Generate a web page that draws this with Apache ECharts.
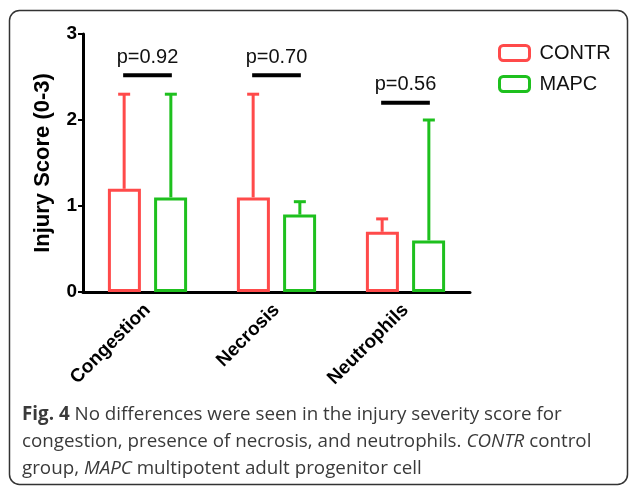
<!DOCTYPE html>
<html>
<head>
<meta charset="utf-8">
<script src="https://cdn.jsdelivr.net/npm/echarts@6/dist/echarts.min.js"></script>
<style>
html,body{margin:0;padding:0;background:#fff;}
#chart{width:630px;height:487px;}
</style>
</head>
<body>
<div id="chart"></div>
<script>
const categories = ['Congestion', 'Necrosis', 'Neutrophils'];
const contrMean = [1.2, 1.1, 0.7];
const contrUpper = [2.3, 2.3, 0.85];
const mapcMean = [1.1, 0.9, 0.6];
const mapcUpper = [2.3, 1.05, 2.0];
const pLabels = ['p=0.92', 'p=0.70', 'p=0.56'];
const pLevels = [2.52, 2.52, 2.2];
const seriesNames = ['CONTR', 'MAPC'];
const captionLines = [
  '{b|Fig. 4} No differences were seen in the injury severity score for',
  'congestion, presence of necrosis, and neutrophils. {i|CONTR} control',
  'group, {i|MAPC} multipotent adult progenitor cell'
];

const RED = '#ff4a4a';
const GREEN = '#1ec01e';
const OFF = 0.181;
const CAP_FS = 18.8;

function errData(mean, upper) {
  return categories.map((c, i) => [i, mean[i], upper[i]]);
}
function errRender(sign, color) {
  return function (params, api) {
    const i = api.value(0);
    const bw = api.size([1, 0])[0];
    const base = api.coord([i, api.value(1)]);
    const top = api.coord([i, api.value(2)]);
    const x = base[0] + sign * bw * OFF;
    const cap = 6;
    return {
      type: 'group',
      children: [
        { type: 'line', shape: { x1: x, y1: base[1], x2: x, y2: top[1] }, style: { stroke: color, lineWidth: 3 } },
        { type: 'line', shape: { x1: x - cap, y1: top[1], x2: x + cap, y2: top[1] }, style: { stroke: color, lineWidth: 3 } }
      ]
    };
  };
}

const chart = echarts.init(document.getElementById('chart'), null, { renderer: 'canvas' });
const option = {
  backgroundColor: '#fff',
  animation: false,
  grid: { left: 83, right: 160, top: 34, bottom: 195, containLabel: false },
  legend: {
    data: seriesNames,
    left: 493, top: 38, orient: 'vertical',
    itemWidth: 30, itemHeight: 15, itemGap: 11,
    icon: 'roundRect',
    itemStyle: { color: '#fff', borderWidth: 3 },
    textStyle: { fontFamily: 'Liberation Sans', fontSize: 20, color: '#111', padding: [0, 0, 0, 5] }
  },
  xAxis: {
    type: 'category',
    data: categories,
    axisLine: { lineStyle: { color: '#000', width: 3 } },
    axisTick: { alignWithLabel: true, length: 6, lineStyle: { color: '#000', width: 3 } },
    axisLabel: { rotate: 45, margin: 15, fontFamily: 'Liberation Sans', fontWeight: 'bold', fontSize: 19, color: '#000' },
    splitLine: { show: false }
  },
  yAxis: {
    type: 'value', min: 0, max: 3, interval: 1,
    name: 'Injury Score (0-3)', nameLocation: 'middle', nameGap: 29,
    nameTextStyle: { fontFamily: 'Liberation Sans', fontWeight: 'bold', fontSize: 22, color: '#000' },
    axisLine: { show: true, lineStyle: { color: '#000', width: 3 } },
    axisTick: { show: true, length: 5, lineStyle: { color: '#000', width: 2 } },
    axisLabel: { margin: 6, fontFamily: 'Liberation Sans', fontWeight: 'bold', fontSize: 19, color: '#000' },
    splitLine: { show: false }
  },
  series: [
    {
      name: 'CONTR', type: 'bar', data: contrMean, barWidth: 33, barGap: '40%',
      itemStyle: { color: '#fff', borderColor: RED, borderWidth: 3 }
    },
    {
      name: 'MAPC', type: 'bar', data: mapcMean, barWidth: 33, barGap: '40%',
      itemStyle: { color: '#fff', borderColor: GREEN, borderWidth: 3 }
    },
    {
      type: 'custom', name: 'CONTR err', data: errData(contrMean, contrUpper),
      encode: { x: 0, y: [1, 2] }, renderItem: errRender(-1, RED), z: 1
    },
    {
      type: 'custom', name: 'MAPC err', data: errData(mapcMean, mapcUpper),
      encode: { x: 0, y: [1, 2] }, renderItem: errRender(1, GREEN), z: 1
    },
    {
      type: 'custom', name: 'p', data: categories.map((c, i) => [i, pLevels[i]]),
      encode: { x: 0, y: 1 },
      renderItem: function (params, api) {
        const i = api.value(0);
        const bw = api.size([1, 0])[0];
        const p = api.coord([i, api.value(1)]);
        const half = bw * OFF + 1;
        return {
          type: 'group',
          children: [
            { type: 'line', shape: { x1: p[0] - half, y1: p[1], x2: p[0] + half, y2: p[1] }, style: { stroke: '#000', lineWidth: 4 } },
            { type: 'text', style: { text: pLabels[params.dataIndex], x: p[0], y: p[1] - 18, align: 'center', verticalAlign: 'middle', font: '20px "Liberation Sans"', fill: '#111' } }
          ]
        };
      }
    }
  ],
  graphic: [
    { type: 'rect', shape: { x: 9.5, y: 10.5, width: 618, height: 474, r: 10 }, style: { fill: 'none', stroke: '#333', lineWidth: 1.5 }, z: -1 }
  ].concat(captionLines.map((t, k) => ({
    type: 'text', left: 22, top: 405 + k * 27,
    style: {
      text: t, fill: '#3a3a3a', font: CAP_FS + 'px "Open Sans"',
      rich: {
        b: { fontWeight: 'bold', fontFamily: 'Open Sans', fontSize: CAP_FS, fill: '#3a3a3a' },
        i: { fontStyle: 'italic', fontFamily: 'Open Sans', fontSize: CAP_FS, fill: '#3a3a3a' }
      }
    }
  })))
};
chart.setOption(option);
</script>
</body>
</html>
